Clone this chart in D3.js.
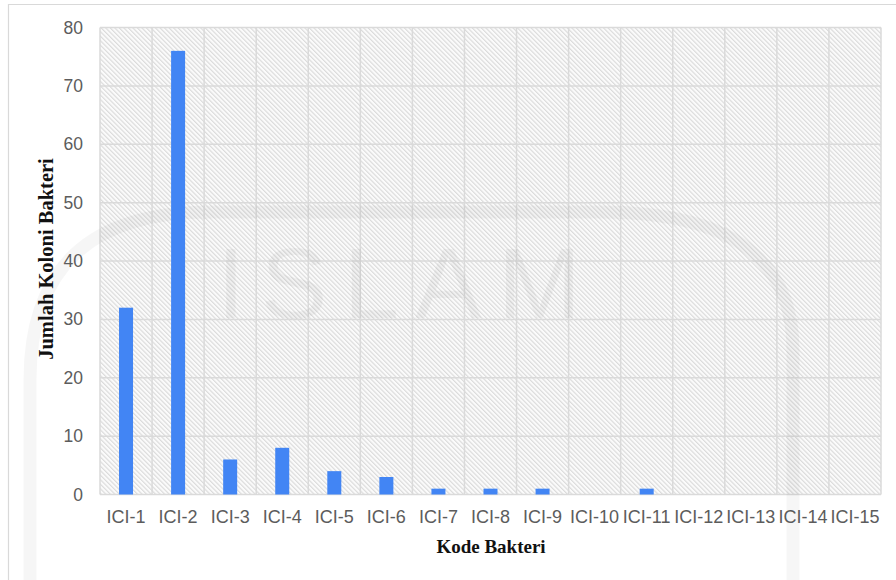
<!DOCTYPE html>
<html>
<head>
<meta charset="utf-8">
<script src="https://cdn.jsdelivr.net/npm/d3@7"></script>
<style>
  html, body { margin: 0; padding: 0; background: #fff; }
  svg { display: block; }
</style>
</head>
<body>
<svg id="chart" width="896" height="580"></svg>
<script>
// Colony counts per bacterial isolate code
const categories = ["ICI-1","ICI-2","ICI-3","ICI-4","ICI-5","ICI-6","ICI-7","ICI-8",
                    "ICI-9","ICI-10","ICI-11","ICI-12","ICI-13","ICI-14","ICI-15"];
const colonies = [32, 76, 6, 8, 4, 3, 1, 1, 1, 0, 1, 0, 0, 0, 0];
const yTicks = [0, 10, 20, 30, 40, 50, 60, 70, 80];
const xTitle = "Kode Bakteri";
const yTitle = "Jumlah Koloni Bakteri";

const svg = d3.select("#chart");
const W = 896, H = 580;
const m = { left: 100, top: 27.5, right: 881, bottom: 494.5 };

const x = d3.scaleBand().domain(categories).range([m.left, m.right]).paddingInner(0).paddingOuter(0);
const y = d3.scaleLinear().domain([0, 80]).range([m.bottom, m.top]);

// Diagonal hatch fill for the plotting area
const defs = svg.append("defs");
const pat = defs.append("pattern")
  .attr("id", "hatch")
  .attr("patternUnits", "userSpaceOnUse")
  .attr("width", 3.2).attr("height", 3.2)
  .attr("patternTransform", "rotate(-45)");
pat.append("rect").attr("width", 3.2).attr("height", 3.2).attr("fill", "#fbfbfb");
pat.append("line").attr("x1", 0.6).attr("y1", 0).attr("x2", 0.6).attr("y2", 3.2)
  .attr("stroke", "#d8d8d8").attr("stroke-width", 1.05);

// Outer frame
svg.append("path")
  .attr("d", `M8.5,${H} L8.5,4.5 L${W},4.5`)
  .attr("fill", "none").attr("stroke", "#d9d9d9").attr("stroke-width", 1.2);

svg.append("rect")
  .attr("x", m.left).attr("y", m.top)
  .attr("width", m.right - m.left).attr("height", m.bottom - m.top)
  .attr("fill", "url(#hatch)");

// Gridlines: horizontal at ticks, vertical at category boundaries
const grid = svg.append("g").attr("stroke", "#dadada").attr("stroke-width", 1.5);
grid.selectAll("line.h").data(yTicks).join("line")
  .attr("x1", m.left).attr("x2", m.right)
  .attr("y1", d => y(d)).attr("y2", d => y(d));
grid.selectAll("line.v").data(categories.concat([null])).join("line")
  .attr("x1", (d, i) => i < categories.length ? x(d) : m.right)
  .attr("x2", (d, i) => i < categories.length ? x(d) : m.right)
  .attr("y1", m.top).attr("y2", m.bottom);

// Faint background emblem
const wm = svg.append("g").attr("pointer-events", "none");
wm.append("path")
  .attr("d", "M30,580 L30,380 Q30,212 210,212 L600,212 Q793,212 793,350 L793,580")
  .attr("fill", "none").attr("stroke", "rgba(0,0,0,0.035)").attr("stroke-width", 13);
wm.append("text")
  .attr("x", 407).attr("y", 318)
  .attr("text-anchor", "middle")
  .attr("font-family", "Liberation Sans, Arial, sans-serif")
  .attr("font-size", 100)
  .attr("letter-spacing", 16)
  .attr("fill", "rgba(0,0,0,0.04)")
  .text("ISLAM");

// Bars
const barW = 14;
svg.append("g").selectAll("rect").data(categories).join("rect")
  .attr("x", d => x(d) + x.bandwidth() / 2 - barW / 2)
  .attr("width", barW)
  .attr("y", (d, i) => y(colonies[i]))
  .attr("height", (d, i) => y(0) - y(colonies[i]))
  .attr("fill", "#4285f4");

// Axes (labels only, no domain/ticks)
const yAxis = d3.axisLeft(y).tickValues(yTicks).tickSize(0).tickPadding(17);
svg.append("g").attr("transform", `translate(${m.left},0)`).call(yAxis)
  .call(g => g.select(".domain").remove())
  .selectAll("text")
  .attr("font-family", "Liberation Sans, Arial, sans-serif")
  .attr("font-size", 17.5).attr("fill", "#5c5c5c");

const xAxis = d3.axisBottom(x).tickSize(0).tickPadding(16);
svg.append("g").attr("transform", `translate(0,${m.bottom})`).call(xAxis)
  .call(g => g.select(".domain").remove())
  .selectAll("text")
  .attr("font-family", "Liberation Sans, Arial, sans-serif")
  .attr("font-size", 18).attr("fill", "#5c5c5c");

// Axis titles
svg.append("text")
  .attr("x", 491).attr("y", 553)
  .attr("text-anchor", "middle")
  .attr("font-family", "Liberation Serif, Times New Roman, serif")
  .attr("font-weight", "bold").attr("font-size", 19)
  .attr("fill", "#111")
  .text(xTitle);

svg.append("text")
  .attr("transform", "translate(52.5,259) rotate(-90)")
  .attr("text-anchor", "middle")
  .attr("font-family", "Liberation Serif, Times New Roman, serif")
  .attr("font-weight", "bold").attr("font-size", 20.5)
  .attr("fill", "#111")
  .text(yTitle);
</script>
</body>
</html>
